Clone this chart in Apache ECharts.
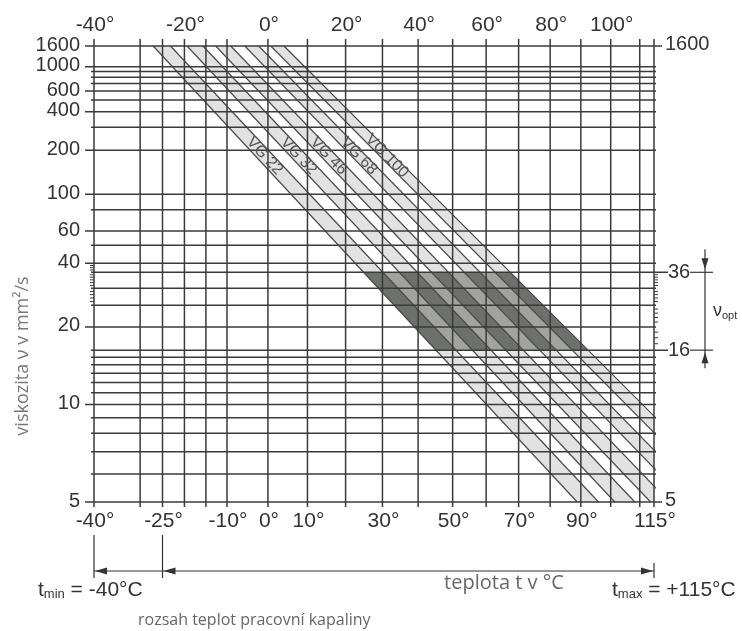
<!DOCTYPE html>
<html>
<head>
<meta charset="utf-8">
<script src="https://cdn.jsdelivr.net/npm/echarts@6/dist/echarts.min.js"></script>
<style>html,body{margin:0;padding:0;background:#fff;}</style>
</head>
<body>
<div id="main" style="width:742px;height:631px;"></div>
<script>
// temperature grid (°C)
var tempGrid = [-40, -30, -25, -20, -15, -10, 0, 10, 20, 30, 40, 50, 60, 70, 80, 90, 100, 110, 115];
var tempTop = [-40, -20, 0, 20, 40, 60, 80, 100];
var tempBottom = [-40, -25, -10, 0, 10, 30, 50, 70, 90, 115];
// viscosity grid (mm²/s)
var viscGrid = [1600, 1000, 900, 800, 700, 600, 500, 400, 300, 200, 100, 80, 60, 50, 40, 36, 30, 25, 20, 16, 15, 14, 13, 12, 11, 10, 9, 8, 7, 6, 5];
var viscLeft = [1600, 1000, 600, 400, 200, 100, 60, 40, 20, 10, 5];
var viscRight = [1600, 5];
var viscMinorLeft = [26, 27, 28, 29, 31, 32, 33, 34, 35, 37, 38, 39];
var viscMinorRight = [17, 18, 19, 21, 22, 23, 24, 26, 27, 28, 29, 31, 32, 33, 34, 35];
var optRange = [16, 36];
var rangeTemps = [-40, -25, 115];
// ISO VG bands: temperature where each band edge meets 1600 and 5 mm²/s
var grades = ['VG 22', 'VG 32', 'VG 46', 'VG 68', 'VG 100'];
var edgeTopT = [-27.1, -23.2, -19.4, -15.7, -12.7, -9.1, -5.7, -2.3, 0.7, 4.0];
var edgeBotT = [88.8, 95.9, 101.4, 108.3, 113.8, 120.5, 126.8, 133.4, 140.1, 146.6];
var labelVisc = 182;

// axis transforms: log of absolute temperature, Ubbelohde-Walther for viscosity
function tx(t) { return Math.log(t + 273.15); }
function vy(v) { return Math.log10(Math.log10(v + 0.7)); }
var X0 = tx(-40), X1 = tx(115), Y0 = vy(5), Y1 = vy(1600);

var INK = '#3a3a3a';
var FONT = '"Liberation Sans", Arial, sans-serif';
var SOFT = '"Open Sans", sans-serif';

function clipPoly(pts, x1, y1, x2, y2) {
  var planes = [[0, x1, 1], [0, x2, -1], [1, y1, 1], [1, y2, -1]];
  planes.forEach(function (pl) {
    var k = pl[0], lim = pl[1], sg = pl[2], out = [];
    for (var i = 0; i < pts.length; i++) {
      var a = pts[i], b = pts[(i + 1) % pts.length];
      var ia = (a[k] - lim) * sg >= 0, ib = (b[k] - lim) * sg >= 0;
      if (ia) out.push(a);
      if (ia !== ib) {
        var f = (lim - a[k]) / (b[k] - a[k]);
        out.push([a[0] + f * (b[0] - a[0]), a[1] + f * (b[1] - a[1])]);
      }
    }
    pts = out;
  });
  return pts;
}

function bandPoly(api, lo, hi) {
  return [
    api.coord([tx(edgeTopT[lo]), Y1]), api.coord([tx(edgeTopT[hi]), Y1]),
    api.coord([tx(edgeBotT[hi]), Y0]), api.coord([tx(edgeBotT[lo]), Y0])
  ];
}

function renderBands(params, api) {
  var i = api.value(0), cs = params.coordSys;
  var y36 = api.coord([X0, vy(optRange[1])])[1], y16 = api.coord([X0, vy(optRange[0])])[1];
  var poly = bandPoly(api, 2 * i, 2 * i + 1);
  var kids = [
    { type: 'polygon', shape: { points: clipPoly(poly, cs.x, cs.y, cs.x + cs.width, cs.y + cs.height) }, style: { fill: '#e2e2e2' } }
  ];
  if (i === 0) {
    var all = bandPoly(api, 0, edgeTopT.length - 1);
    kids.push({ type: 'polygon', shape: { points: clipPoly(all, cs.x, y36, cs.x + cs.width, y16) }, style: { fill: '#a2a3a0' } });
  }
  return { type: 'group', children: kids };
}

function renderDark(params, api) {
  var i = api.value(0), cs = params.coordSys;
  var y36 = api.coord([X0, vy(optRange[1])])[1], y16 = api.coord([X0, vy(optRange[0])])[1];
  var poly = bandPoly(api, 2 * i, 2 * i + 1);
  return { type: 'polygon', shape: { points: clipPoly(poly, cs.x, y36, cs.x + cs.width, y16) }, style: { fill: '#6e706d' } };
}

function renderVLine(params, api) {
  var t = api.value(0);
  var p = api.coord([tx(t), Y1]), q = api.coord([tx(t), Y0]);
  return { type: 'line', shape: { x1: p[0], y1: p[1] - 7, x2: q[0], y2: q[1] + 5 }, style: { stroke: INK, lineWidth: 1.5 } };
}

function renderHLine(params, api) {
  var v = api.value(1), cs = params.coordSys;
  var y = api.coord([X0, vy(v)])[1];
  var isL = viscLeft.indexOf(v) >= 0, isR = viscRight.indexOf(v) >= 0, isO = optRange.indexOf(v) >= 0;
  var right = cs.x + cs.width;
  var kids = [{ type: 'line', shape: { x1: cs.x - (isL ? 9 : 3), y1: y, x2: right + (isR ? 8 : (isO ? 14 : 2)), y2: y }, style: { stroke: INK, lineWidth: 1.5 } }];
  if (isL) kids.push({ type: 'text', style: { text: String(v), x: cs.x - 14, y: y - 1, align: 'right', verticalAlign: 'middle', font: '20px ' + FONT, fill: '#333' } });
  if (isR) kids.push({ type: 'text', style: { text: String(v), x: right + 11, y: y - 2, align: 'left', verticalAlign: 'middle', font: '20px ' + FONT, fill: '#333' } });
  if (isO) {
    kids.push({ type: 'line', shape: { x1: right + 36, y1: y, x2: right + 59, y2: y }, style: { stroke: INK, lineWidth: 1.2 } });
    kids.push({ type: 'text', style: { text: String(v), x: right + 25, y: y, align: 'center', verticalAlign: 'middle', font: '20px ' + FONT, fill: '#333' } });
  }
  return { type: 'group', children: kids };
}

function renderMinor(side) {
  return function (params, api) {
    var v = api.value(1), cs = params.coordSys;
    var y = api.coord([X0, vy(v)])[1];
    var x = side === 'L' ? cs.x : cs.x + cs.width;
    return { type: 'line', shape: { x1: side === 'L' ? x - 4 : x, y1: y, x2: side === 'L' ? x : x + 4, y2: y }, style: { stroke: INK, lineWidth: 1 } };
  };
}

function renderTempLabel(yPix) {
  return function (params, api) {
    var t = api.value(0);
    var p = api.coord([tx(t), Y0]);
    return { type: 'text', style: { text: t + '°', x: p[0] + 1, y: yPix, align: 'center', verticalAlign: 'middle', font: '21px ' + FONT, fill: '#333' } };
  };
}

function renderGradeLabel(params, api) {
  var i = api.value(0);
  var w = vy(labelVisc);
  var f = (w - Y1) / (Y0 - Y1);
  var tl = tx(edgeTopT[2 * i]) + f * (tx(edgeBotT[2 * i]) - tx(edgeTopT[2 * i]));
  var th = tx(edgeTopT[2 * i + 1]) + f * (tx(edgeBotT[2 * i + 1]) - tx(edgeTopT[2 * i + 1]));
  var p = api.coord([(tl + th) / 2, w]);
  var a = api.coord([tx(edgeTopT[2 * i]), Y1]), b = api.coord([tx(edgeBotT[2 * i]), Y0]);
  var ang = Math.atan2(b[1] - a[1], b[0] - a[0]);
  return { type: 'text', x: p[0], y: p[1], rotation: -ang, style: { text: grades[i], x: 0, y: 0, align: 'center', verticalAlign: 'middle', font: '16px ' + FONT, fill: '#555' } };
}

function renderRange(params, api) {
  var y = 571;
  var a = api.coord([tx(api.value(0)), Y0])[0];
  var b = api.coord([tx(api.value(1)), Y0])[0];
  var c = api.coord([tx(api.value(2)), Y0])[0];
  var st = { stroke: '#333', lineWidth: 1.2 };
  return { type: 'group', children: [
    { type: 'line', shape: { x1: a, y1: 535, x2: a, y2: 578 }, style: st },
    { type: 'line', shape: { x1: b, y1: 535, x2: b, y2: 578 }, style: st },
    { type: 'line', shape: { x1: c, y1: 563, x2: c, y2: 578 }, style: st },
    { type: 'line', shape: { x1: a, y1: y, x2: c, y2: y }, style: st },
    { type: 'polygon', shape: { points: [[a + 1, y], [a + 13, y - 3.5], [a + 13, y + 3.5]] }, style: { fill: '#333' } },
    { type: 'polygon', shape: { points: [[b + 1, y], [b + 13, y - 3.5], [b + 13, y + 3.5]] }, style: { fill: '#333' } },
    { type: 'polygon', shape: { points: [[c - 1, y], [c - 13, y - 3.5], [c - 13, y + 3.5]] }, style: { fill: '#333' } }
  ] };
}

function renderOpt(params, api) {
  var y16 = api.coord([X1, vy(api.value(0))])[1];
  var y36 = api.coord([X1, vy(api.value(1))])[1];
  var x = 705, st = { stroke: '#333', lineWidth: 1.2 };
  return { type: 'group', children: [
    { type: 'line', shape: { x1: x, y1: y36 - 23, x2: x, y2: y16 + 18 }, style: st },
    { type: 'polygon', shape: { points: [[x, y36 - 3], [x - 3.5, y36 - 14], [x + 3.5, y36 - 14]] }, style: { fill: '#333' } },
    { type: 'polygon', shape: { points: [[x, y16 + 2], [x - 3.5, y16 + 13], [x + 3.5, y16 + 13]] }, style: { fill: '#333' } },
    { type: 'text', style: { text: '{a|ν}{b|opt}', x: 713, y: (y36 + y16) / 2, align: 'left', verticalAlign: 'middle',
      rich: { a: { font: '18px ' + FONT, fill: '#333' }, b: { font: '11px ' + FONT, fill: '#333', padding: [9, 0, 0, 0] } } } }
  ] };
}

var edgeSeries = [];
for (var k = 0; k < edgeTopT.length; k++) {
  edgeSeries.push({
    type: 'line', silent: true, symbol: 'none', clip: true, z: 3,
    lineStyle: { color: '#4a4a4a', width: 1.2 },
    data: [[tx(edgeTopT[k]), Y1], [tx(edgeBotT[k]), Y0]]
  });
}

var gradeIdx = grades.map(function (g, i) { return [i, 0]; });

var chart = echarts.init(document.getElementById('main'));
chart.setOption({
  animation: false,
  backgroundColor: '#fff',
  grid: { left: 94, top: 46, width: 560, height: 456 },
  xAxis: { type: 'value', min: X0, max: X1, show: false },
  yAxis: { type: 'value', min: Y0, max: Y1, show: false },
  series: [
    { type: 'custom', silent: true, z: 1, renderItem: renderBands, data: gradeIdx },
    { type: 'custom', silent: true, z: 2, renderItem: renderDark, data: gradeIdx },
    { type: 'custom', silent: true, z: 4, renderItem: renderVLine, data: tempGrid.map(function (t) { return [t, 0]; }) },
    { type: 'custom', silent: true, z: 4, renderItem: renderHLine, data: viscGrid.map(function (v) { return [0, v]; }) },
    { type: 'custom', silent: true, z: 4, renderItem: renderMinor('L'), data: viscMinorLeft.map(function (v) { return [0, v]; }) },
    { type: 'custom', silent: true, z: 4, renderItem: renderMinor('R'), data: viscMinorRight.map(function (v) { return [0, v]; }) },
    { type: 'custom', silent: true, z: 5, renderItem: renderTempLabel(25), data: tempTop.map(function (t) { return [t, 0]; }) },
    { type: 'custom', silent: true, z: 5, renderItem: renderTempLabel(521), data: tempBottom.map(function (t) { return [t, 0]; }) },
    { type: 'custom', silent: true, z: 5, renderItem: renderGradeLabel, data: gradeIdx },
    { type: 'custom', silent: true, z: 5, renderItem: renderRange, data: [rangeTemps] },
    { type: 'custom', silent: true, z: 5, renderItem: renderOpt, data: [optRange] }
  ].concat(edgeSeries),
  graphic: [
    { type: 'text', x: 23, y: 356, rotation: Math.PI / 2, style: { text: 'viskozita ν v mm²/s', x: 0, y: 0, align: 'center', verticalAlign: 'middle', font: '18px ' + SOFT, fill: '#777' } },
    { type: 'text', x: 38, y: 590, style: { text: '{a|t}{b|min}{a| = -40°C}', align: 'left', verticalAlign: 'middle',
      rich: { a: { font: '21px ' + FONT, fill: '#333' }, b: { font: '13px ' + FONT, fill: '#333', padding: [9, 0, 0, 0] } } } },
    { type: 'text', x: 612, y: 590, style: { text: '{a|t}{b|max}{a| = +115°C}', align: 'left', verticalAlign: 'middle',
      rich: { a: { font: '21px ' + FONT, fill: '#333' }, b: { font: '13px ' + FONT, fill: '#333', padding: [9, 0, 0, 0] } } } },
    { type: 'text', x: 504, y: 583, style: { text: 'teplota t v °C', align: 'center', verticalAlign: 'middle', font: '20px ' + SOFT, fill: '#666' } },
    { type: 'text', x: 138, y: 620, style: { text: 'rozsah teplot pracovní kapaliny', align: 'left', verticalAlign: 'middle', font: '16px ' + SOFT, fill: '#666' } }
  ]
});
</script>
</body>
</html>
